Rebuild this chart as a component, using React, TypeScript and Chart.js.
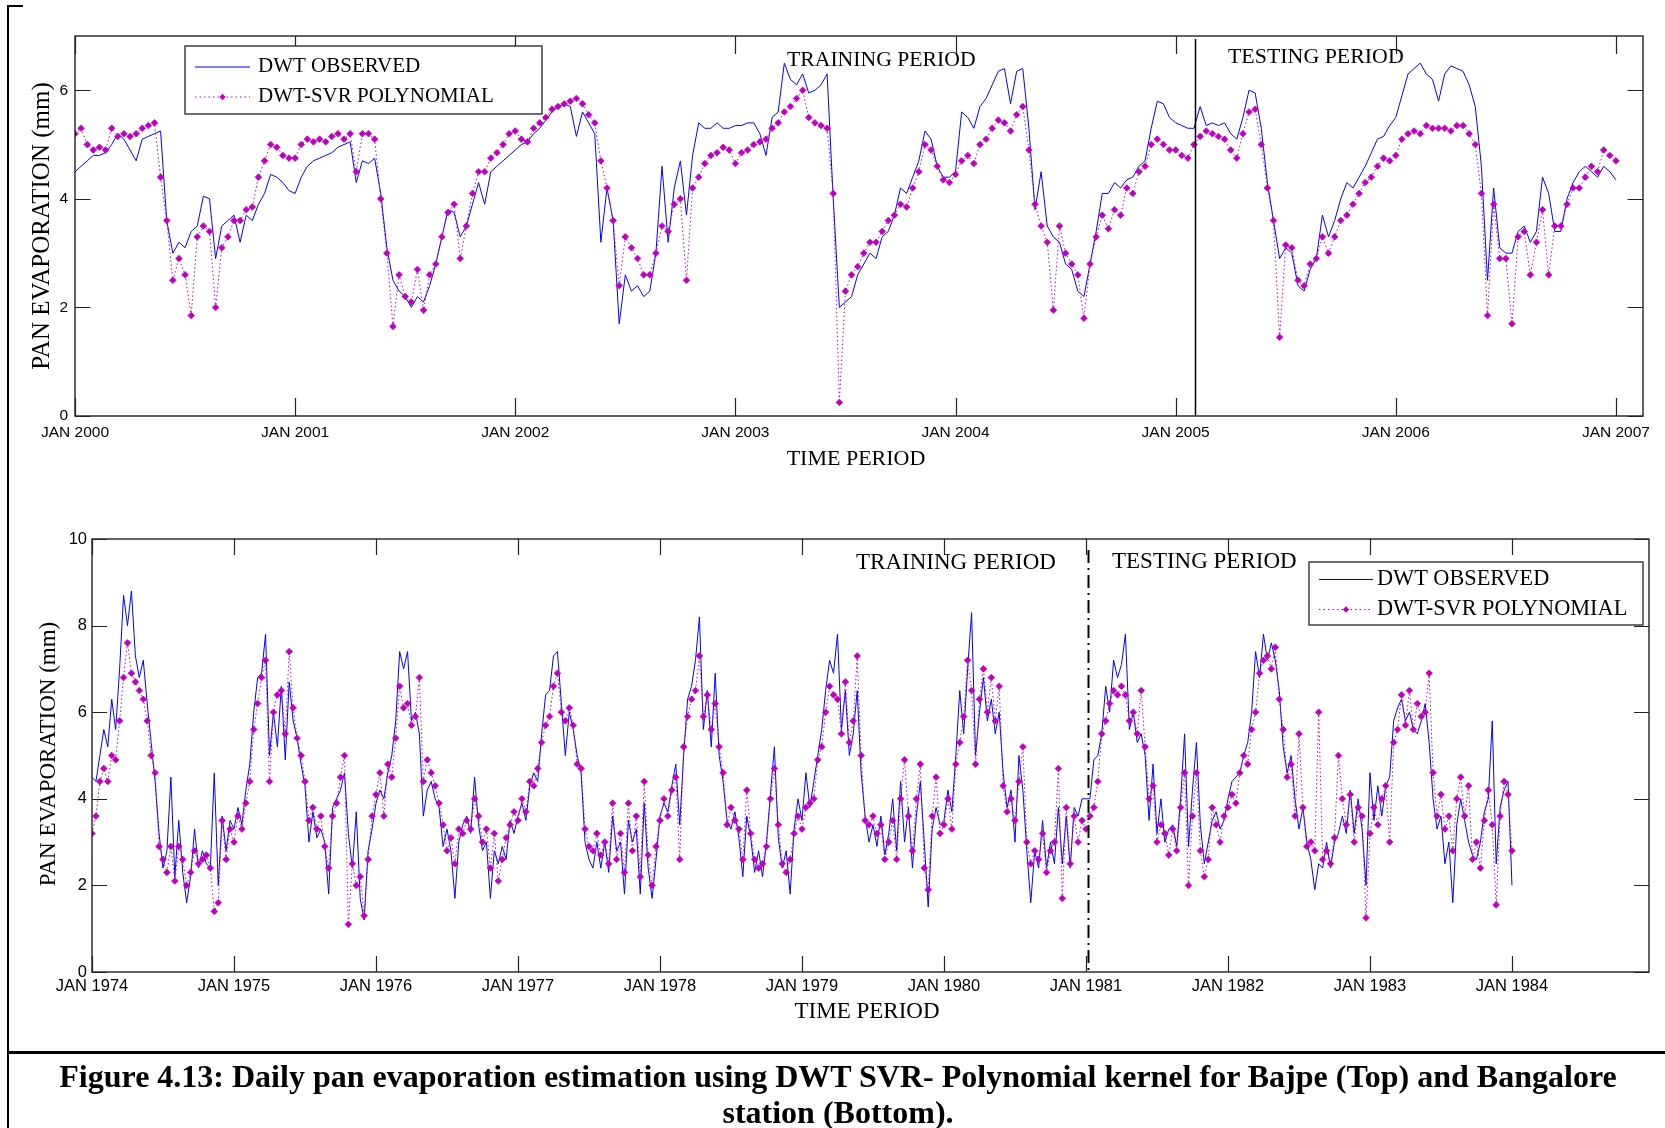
import React, { useEffect, useRef } from "react";
import { Chart, registerables } from "chart.js";

Chart.register(...registerables);

// ===================== DATA =====================
const PER_YEAR = 36;
const SERIES_NAMES = ["DWT OBSERVED", "DWT-SVR POLYNOMIAL"];

// ---- Top panel: Bajpe, Jan 2000 - Jan 2007 ----
const TOP_START_YEAR = 2000;
const TOP_OBS_2000 = [4.5,4.6,4.7,4.8,4.8,4.85,5.0,5.2,5.1,4.9,4.7,5.1,5.15,5.2,5.25,3.6,3.0,3.2,3.1,3.4,3.5,4.05,4.0,2.9,3.5,3.6,3.7,3.2,3.7,3.6,3.9,4.1,4.45,4.4,4.3,4.15];
const TOP_PRED_2000 = [5.2,5.3,5.0,4.9,4.95,4.9,5.3,5.15,5.2,5.15,5.2,5.3,5.35,5.4,4.4,3.6,2.5,2.9,2.6,1.85,3.3,3.5,3.4,2.0,3.1,3.3,3.6,3.6,3.8,3.85,4.4,4.7,5.0,4.95,4.8,4.75];
const TOP_OBS_2001 = [4.1,4.4,4.6,4.7,4.75,4.8,4.85,4.95,5.0,5.05,4.3,4.7,4.65,4.75,4.1,3.1,2.5,2.3,2.2,2.0,2.2,2.1,2.4,2.8,3.3,3.8,3.75,3.3,3.5,3.9,4.3,3.9,4.5,4.6,4.7,4.8];
const TOP_PRED_2001 = [4.75,5.0,5.1,5.05,5.1,5.05,5.15,5.2,5.1,5.2,4.5,5.2,5.2,5.1,4.0,3.0,1.65,2.6,2.2,2.1,2.7,1.95,2.6,2.8,3.3,3.75,3.9,2.9,3.5,4.1,4.5,4.5,4.75,4.85,5.0,5.2];
const TOP_OBS_2002 = [4.9,5.0,5.05,5.2,5.3,5.45,5.6,5.7,5.75,5.7,5.15,5.6,5.4,5.2,3.2,4.2,3.6,1.7,2.6,2.3,2.4,2.2,2.3,3.0,4.6,3.2,4.2,4.7,3.7,4.8,5.4,5.3,5.3,5.4,5.3,5.3];
const TOP_PRED_2002 = [5.25,5.1,5.05,5.3,5.4,5.5,5.65,5.7,5.75,5.8,5.85,5.75,5.55,5.4,4.7,4.2,3.6,2.4,3.3,3.1,2.9,2.6,2.6,3.0,3.5,3.4,3.9,4.0,2.5,4.2,4.4,4.65,4.8,4.85,4.95,4.9];
const TOP_OBS_2003 = [5.35,5.35,5.4,5.4,5.2,4.8,5.5,5.6,6.5,6.2,6.1,6.3,5.95,6.0,6.1,6.3,4.0,2.0,2.1,2.2,2.6,2.8,3.0,2.9,3.3,3.4,3.7,4.2,4.1,4.4,4.7,5.25,5.1,4.6,4.4,4.4];
const TOP_PRED_2003 = [4.65,4.85,4.9,5.0,5.05,5.1,5.3,5.4,5.6,5.7,5.85,6.0,5.5,5.4,5.35,5.3,4.1,0.25,2.3,2.6,2.75,3.0,3.2,3.2,3.4,3.6,3.7,3.9,3.85,4.2,4.5,5.0,4.9,4.6,4.35,4.3];
const TOP_OBS_2004 = [4.5,5.6,5.5,5.3,5.7,5.85,6.1,6.35,6.4,5.75,6.35,6.4,5.3,3.8,4.5,3.5,3.3,3.2,2.8,2.7,2.3,2.2,2.8,3.4,4.1,4.1,4.3,4.2,4.35,4.4,4.6,4.7,5.3,5.8,5.75,5.5];
const TOP_PRED_2004 = [4.45,4.7,4.8,4.65,5.0,5.1,5.3,5.45,5.4,5.25,5.55,5.7,4.9,3.9,3.5,3.2,1.95,3.5,3.0,2.8,2.6,1.8,2.8,3.3,3.7,3.45,3.8,3.7,4.2,4.1,4.5,4.6,5.0,5.1,5.0,4.9];
const TOP_OBS_2005 = [5.4,5.35,5.3,5.3,5.7,5.35,5.4,5.35,5.4,5.2,5.1,5.5,6.0,5.95,5.3,4.3,3.6,2.9,3.1,3.0,2.4,2.3,2.7,2.9,3.7,3.3,3.6,4.0,4.3,4.2,4.4,4.6,4.85,5.1,5.15,5.35];
const TOP_PRED_2005 = [4.9,4.8,4.75,5.0,5.15,5.25,5.2,5.15,5.1,4.9,4.75,5.2,5.6,5.65,5.0,4.2,3.6,1.45,3.15,3.1,2.5,2.4,2.8,2.9,3.3,3.0,3.3,3.6,3.7,3.9,4.1,4.3,4.4,4.6,4.75,4.7];
const TOP_OBS_2006 = [5.5,5.9,6.3,6.4,6.5,6.3,6.2,5.8,6.3,6.45,6.4,6.35,6.1,5.7,4.6,2.5,4.2,3.1,3.0,3.0,3.4,3.5,3.2,3.4,4.4,4.1,3.4,3.4,4.0,4.3,4.5,4.6,4.5,4.4,4.6,4.5];
const TOP_PRED_2006 = [4.8,5.1,5.2,5.25,5.2,5.35,5.3,5.3,5.3,5.25,5.35,5.35,5.2,5.0,4.1,1.85,3.9,2.9,2.9,1.7,3.3,3.4,2.6,3.2,3.8,2.6,3.5,3.5,3.9,4.2,4.2,4.4,4.6,4.5,4.9,4.8];
const TOP_OBS_END = [4.35];
const TOP_PRED_END = [4.7];

const TOP_X_TICKS = [2000, 2001, 2002, 2003, 2004, 2005, 2006, 2007];
const TOP_X_TICK_LABELS = ["JAN 2000", "JAN 2001", "JAN 2002", "JAN 2003", "JAN 2004", "JAN 2005", "JAN 2006", "JAN 2007"];
const TOP_Y_TICKS = [0, 2, 4, 6];
const TOP_Y_TICK_LABELS = ["0", "2", "4", "6"];
const TOP_SPLIT_YEAR = 2005.086;

// ---- Bottom panel: Bangalore, Jan 1974 - Jan 1984 ----
const BOT_START_YEAR = 1974;
const BOT_OBS_1974 = [4.5,4.4,5.0,5.6,5.2,6.3,5.6,7.0,8.7,8.0,8.8,7.3,6.8,7.2,6.2,5.3,4.4,3.2,2.4,2.8,4.5,2.2,3.5,2.3,1.6,2.2,3.3,2.4,2.8,2.5,2.4,4.6,2.0,3.6,2.8,3.5];
const BOT_PRED_1974 = [3.2,3.6,4.4,4.7,4.4,5.0,4.9,5.8,6.8,7.6,6.9,6.7,6.5,6.3,5.8,5.0,4.6,2.9,2.6,2.3,2.9,2.1,2.9,2.6,2.0,2.3,2.8,2.5,2.6,2.7,2.4,1.4,1.6,3.5,2.6,3.3];
const BOT_OBS_1975 = [3.3,3.8,3.4,4.2,4.8,6.0,6.8,6.9,7.8,5.0,6.0,5.2,6.6,4.9,6.7,5.8,5.4,4.8,4.3,3.0,3.7,3.1,3.3,3.0,1.8,3.8,4.0,4.2,4.6,3.2,2.4,3.7,1.7,1.2,2.8,3.3];
const BOT_PRED_1975 = [3.0,3.6,3.3,3.9,4.4,5.6,6.2,6.8,7.2,4.4,6.0,6.4,6.5,5.5,7.4,6.1,5.4,5.0,4.4,3.5,3.8,3.3,3.6,2.9,2.4,3.6,3.9,4.5,5.0,1.1,2.5,2.0,2.2,1.3,2.6,3.6];
const BOT_OBS_1976 = [3.9,4.2,4.0,4.6,5.0,5.8,7.4,7.0,7.4,5.8,6.0,5.5,3.6,4.2,4.4,4.0,3.8,2.9,3.3,2.8,1.7,3.0,3.4,3.6,3.2,4.5,3.4,2.8,3.0,1.7,2.8,2.5,2.9,2.6,3.5,3.2];
const BOT_PRED_1976 = [4.1,4.6,3.6,4.8,4.5,5.4,6.6,6.1,6.2,5.7,5.9,6.8,4.4,4.9,4.6,4.3,3.9,3.4,2.8,3.1,2.5,3.3,3.2,3.5,3.3,4.0,3.6,3.0,3.3,2.4,3.2,2.1,2.6,3.1,3.4,3.7];
const BOT_OBS_1977 = [3.6,3.9,3.5,4.3,4.6,4.4,5.5,6.4,6.5,7.3,7.4,6.2,5.0,6.0,5.6,5.0,4.6,3.0,2.6,2.4,3.0,2.4,3.0,2.3,3.6,2.8,3.0,1.8,3.5,3.0,3.3,1.8,3.9,2.4,1.7,2.6];
const BOT_PRED_1977 = [3.5,4.0,3.7,4.4,4.3,4.7,5.3,5.7,5.9,6.6,6.9,6.0,5.8,6.1,5.7,4.8,4.7,3.3,2.9,2.8,3.2,2.7,3.0,2.5,3.9,2.6,3.2,2.3,3.9,2.8,3.6,2.2,4.4,2.7,2.0,2.9];
const BOT_OBS_1978 = [3.6,3.9,3.7,4.3,4.8,3.4,5.0,6.3,6.6,7.2,8.2,5.6,6.5,5.2,6.9,5.0,4.4,3.5,3.3,3.7,3.1,2.2,3.6,3.1,2.3,2.8,2.2,3.0,4.1,5.2,3.1,2.4,2.8,1.8,3.3,4.0];
const BOT_PRED_1978 = [3.5,4.0,3.6,4.2,4.5,2.6,5.2,5.9,6.3,6.5,7.3,5.9,6.4,5.6,6.2,5.2,4.6,3.4,3.8,3.5,3.3,2.6,4.2,3.2,2.6,2.4,2.5,2.9,4.0,4.7,3.4,2.5,2.3,2.6,3.2,3.6];
const BOT_OBS_1979 = [3.5,4.6,3.8,4.4,5.0,5.6,6.5,7.2,6.9,7.8,5.6,6.5,5.0,5.5,6.5,4.6,3.6,3.0,3.4,2.9,3.6,2.7,3.2,4.0,2.8,4.4,3.0,3.8,2.4,3.6,4.4,3.0,1.5,3.3,3.8,3.4];
const BOT_PRED_1979 = [3.3,3.8,3.9,4.0,4.9,5.2,6.0,6.6,6.4,6.3,5.5,6.7,5.3,5.8,7.3,5.0,3.5,3.4,3.6,3.2,3.4,2.6,3.0,3.5,2.6,4.0,4.9,3.6,2.8,4.0,4.8,2.4,1.9,3.6,4.5,3.2];
const BOT_OBS_1980 = [3.5,4.2,3.7,5.0,6.5,5.5,7.0,8.3,5.0,6.0,6.8,5.8,6.3,5.5,6.0,4.6,3.8,4.2,3.0,5.0,4.2,2.8,1.6,2.8,2.4,3.5,2.4,3.0,2.5,3.8,2.5,3.6,2.4,3.8,3.6,4.0];
const BOT_PRED_1980 = [3.4,4.0,3.3,4.8,5.3,5.9,7.2,6.5,4.8,6.3,7.0,6.0,6.8,5.8,6.6,4.3,3.7,4.0,3.5,4.4,5.2,3.0,2.5,2.8,2.6,3.2,2.3,2.8,3.0,4.7,1.7,3.8,2.5,3.6,3.0,3.5];
const BOT_OBS_1981 = [4.0,4.0,4.9,5.0,5.5,6.6,6.0,7.2,6.8,7.1,7.8,5.6,6.0,5.3,5.5,5.0,3.5,4.8,3.2,4.0,3.0,3.3,3.4,2.9,4.0,5.5,2.9,4.2,5.3,3.4,2.5,3.0,3.5,3.7,3.3,3.5];
const BOT_PRED_1981 = [3.3,3.6,3.8,4.4,5.5,5.8,6.2,6.5,6.4,6.6,6.4,5.8,6.0,5.5,6.5,5.2,4.0,4.3,3.0,3.4,3.2,2.7,3.3,2.8,3.8,4.6,2.0,3.6,4.6,2.8,2.2,2.6,3.8,3.4,3.0,3.6];
const BOT_OBS_1982 = [4.0,4.4,4.5,4.6,5.0,5.3,6.0,7.4,6.8,7.8,7.2,7.6,7.2,6.5,5.2,4.6,5.0,4.0,3.3,3.8,3.0,2.6,1.9,2.5,2.4,3.0,2.4,3.0,3.2,3.6,3.2,4.2,3.2,4.0,3.3,2.0];
const BOT_PRED_1982 = [3.8,4.1,3.9,4.6,5.0,4.8,5.6,6.0,6.9,7.2,7.3,7.0,7.5,6.3,5.6,4.5,4.8,3.6,5.5,3.8,2.9,3.0,2.8,6.0,2.6,2.8,2.5,3.1,5.0,4.0,3.4,4.1,3.0,3.8,3.6,1.25];
const BOT_OBS_1983 = [4.6,3.5,4.3,3.6,4.3,4.5,5.8,6.1,6.3,5.8,6.0,5.6,5.5,5.8,6.2,5.3,4.0,3.3,3.6,2.5,3.0,1.6,3.4,4.0,3.5,3.0,2.7,2.6,3.0,3.7,4.0,5.8,2.5,3.8,4.2,4.4];
const BOT_PRED_1983 = [3.2,3.8,3.4,4.0,4.3,3.0,5.3,5.6,6.4,5.7,6.5,5.6,6.2,5.9,6.0,6.9,4.6,3.6,4.1,3.3,3.6,2.8,4.0,4.5,3.6,4.3,2.6,3.0,2.4,3.5,4.2,3.4,1.55,3.6,4.4,4.1];
const BOT_OBS_END = [2.0];
const BOT_PRED_END = [2.8];

const BOT_X_TICKS = [1974, 1975, 1976, 1977, 1978, 1979, 1980, 1981, 1982, 1983, 1984];
const BOT_X_TICK_LABELS = ["JAN 1974", "JAN 1975", "JAN 1976", "JAN 1977", "JAN 1978", "JAN 1979", "JAN 1980", "JAN 1981", "JAN 1982", "JAN 1983", "JAN 1984"];
const BOT_Y_TICKS = [0, 2, 4, 6, 8, 10];
const BOT_Y_TICK_LABELS = ["0", "2", "4", "6", "8", "10"];
const BOT_SPLIT_YEAR = 1981.014;

// ===================== STYLE =====================
const BLUE = "#0000ff";
const MAGENTA = "#bf00bf";
const SERIF = '"Liberation Serif", "Times New Roman", serif';
const SANS = '"Liberation Sans", Arial, sans-serif';

function toPoints(start: number, values: number[]) {
  return values.map((v, i) => ({ x: start + i / PER_YEAR, y: v }));
}

type PanelCfg = {
  padding: { left: number; top: number; right: number; bottom: number };
  xMin: number;
  xMax: number;
  yMax: number;
  obs: { x: number; y: number }[];
  pred: { x: number; y: number }[];
  xTicks: number[];
  xTickLabels: string[];
  yTicks: number[];
  yTickLabels: string[];
  tickFont: string;
  xLabelOffset: number;
  yLabelGap: number;
  xTickLen: number;
  yTickLen: number;
  xTitleFont: string;
  xTitlePos: [number, number];
  yTitleFont: string;
  yTitlePos: [number, number];
  legend: { box: [number, number, number, number]; sample: [number, number]; textX: number; rows: [number, number]; font: string };
  notes: { text: string; x: number; y: number; font: string }[];
  split: { value: number; dash: number[]; width: number; topInset: number };
};

function drawDiamond(ctx: CanvasRenderingContext2D, x: number, y: number, r: number) {
  ctx.beginPath();
  ctx.moveTo(x, y - r);
  ctx.lineTo(x + r, y);
  ctx.lineTo(x, y + r);
  ctx.lineTo(x - r, y);
  ctx.closePath();
  ctx.fill();
}

function matlabPlugin(cfg: PanelCfg) {
  return {
    id: "matlabAxes",
    afterDatasetsDraw(chart: any) {
      const { ctx, chartArea: a } = chart;
      const xs = chart.scales.x;
      const px = Math.round(xs.getPixelForValue(cfg.split.value)) + 0.5;
      ctx.save();
      ctx.strokeStyle = "#000";
      ctx.lineWidth = cfg.split.width;
      ctx.setLineDash(cfg.split.dash);
      ctx.beginPath();
      ctx.moveTo(px, a.top + cfg.split.topInset);
      ctx.lineTo(px, a.bottom);
      ctx.stroke();
      ctx.restore();
    },
    afterDraw(chart: any) {
      const { ctx, chartArea: a } = chart;
      const xs = chart.scales.x;
      const ys = chart.scales.y;
      ctx.save();
      // frame
      ctx.strokeStyle = "#222";
      ctx.lineWidth = 1.4;
      ctx.strokeRect(a.left, a.top, a.right - a.left, a.bottom - a.top);
      // inward ticks
      ctx.lineWidth = 1.2;
      ctx.beginPath();
      cfg.xTicks.forEach((v) => {
        const p = Math.round(xs.getPixelForValue(v)) + 0.5;
        ctx.moveTo(p, a.bottom);
        ctx.lineTo(p, a.bottom - cfg.xTickLen);
        ctx.moveTo(p, a.top);
        ctx.lineTo(p, a.top + cfg.xTickLen);
      });
      cfg.yTicks.forEach((v) => {
        const p = Math.round(ys.getPixelForValue(v)) + 0.5;
        ctx.moveTo(a.left, p);
        ctx.lineTo(a.left + cfg.yTickLen, p);
        ctx.moveTo(a.right, p);
        ctx.lineTo(a.right - cfg.yTickLen, p);
      });
      ctx.stroke();
      // tick labels
      ctx.fillStyle = "#000";
      ctx.font = cfg.tickFont;
      ctx.textAlign = "center";
      ctx.textBaseline = "middle";
      cfg.xTicks.forEach((v, i) => {
        ctx.fillText(cfg.xTickLabels[i], xs.getPixelForValue(v), a.bottom + cfg.xLabelOffset);
      });
      ctx.textAlign = "right";
      cfg.yTicks.forEach((v, i) => {
        ctx.fillText(cfg.yTickLabels[i], a.left - cfg.yLabelGap, ys.getPixelForValue(v));
      });
      // axis titles
      ctx.textAlign = "center";
      ctx.font = cfg.xTitleFont;
      ctx.fillText("TIME PERIOD", cfg.xTitlePos[0], cfg.xTitlePos[1]);
      ctx.save();
      ctx.translate(cfg.yTitlePos[0], cfg.yTitlePos[1]);
      ctx.rotate(-Math.PI / 2);
      ctx.font = cfg.yTitleFont;
      ctx.fillText("PAN EVAPORATION (mm)", 0, 0);
      ctx.restore();
      // period notes
      ctx.textAlign = "left";
      cfg.notes.forEach((n) => {
        ctx.font = n.font;
        ctx.fillText(n.text, n.x, n.y);
      });
      // legend
      const lg = cfg.legend;
      const [x0, y0, x1, y1] = lg.box;
      ctx.fillStyle = "#fff";
      ctx.fillRect(x0, y0, x1 - x0, y1 - y0);
      ctx.strokeStyle = "#222";
      ctx.lineWidth = 1.3;
      ctx.strokeRect(x0, y0, x1 - x0, y1 - y0);
      ctx.lineWidth = 1;
      ctx.strokeStyle = BLUE;
      ctx.beginPath();
      ctx.moveTo(lg.sample[0], lg.rows[0] + 0.5);
      ctx.lineTo(lg.sample[1], lg.rows[0] + 0.5);
      ctx.stroke();
      ctx.strokeStyle = MAGENTA;
      ctx.setLineDash([1.5, 3]);
      ctx.beginPath();
      ctx.moveTo(lg.sample[0], lg.rows[1] + 0.5);
      ctx.lineTo(lg.sample[1], lg.rows[1] + 0.5);
      ctx.stroke();
      ctx.setLineDash([]);
      ctx.fillStyle = MAGENTA;
      drawDiamond(ctx, (lg.sample[0] + lg.sample[1]) / 2, lg.rows[1] + 0.5, 3.2);
      ctx.fillStyle = "#000";
      ctx.font = lg.font;
      ctx.textAlign = "left";
      ctx.fillText(SERIES_NAMES[0], lg.textX, lg.rows[0]);
      ctx.fillText(SERIES_NAMES[1], lg.textX, lg.rows[1]);
      ctx.restore();
    },
  };
}

function makeConfig(cfg: PanelCfg): any {
  return {
    type: "line",
    data: {
      datasets: [
        {
          label: SERIES_NAMES[1],
          data: cfg.pred,
          borderColor: MAGENTA,
          backgroundColor: MAGENTA,
          borderWidth: 1,
          borderDash: [1.5, 2.5],
          pointStyle: "rectRot",
          pointRadius: 3.3,
          pointBorderWidth: 0.8,
          pointBackgroundColor: MAGENTA,
          pointBorderColor: MAGENTA,
          fill: false,
          tension: 0,
          order: 0,
        },
        {
          label: SERIES_NAMES[0],
          data: cfg.obs,
          borderColor: BLUE,
          borderWidth: 1,
          pointRadius: 0,
          fill: false,
          tension: 0,
          order: 1,
        },
      ],
    },
    options: {
      responsive: false,
      animation: false,
      devicePixelRatio: 1,
      events: [],
      layout: { padding: cfg.padding },
      scales: {
        x: { type: "linear", display: false, min: cfg.xMin, max: cfg.xMax },
        y: { type: "linear", display: false, min: 0, max: cfg.yMax },
      },
      plugins: { legend: { display: false }, tooltip: { enabled: false } },
    },
    plugins: [matlabPlugin(cfg)],
  };
}

const TOP_CFG: PanelCfg = {
  padding: { left: 75, top: 36, right: 22, bottom: 64 },
  xMin: 2000,
  xMax: 2007.123,
  yMax: 7,
  obs: toPoints(TOP_START_YEAR, [
    ...TOP_OBS_2000, ...TOP_OBS_2001, ...TOP_OBS_2002, ...TOP_OBS_2003,
    ...TOP_OBS_2004, ...TOP_OBS_2005, ...TOP_OBS_2006, ...TOP_OBS_END,
  ]),
  pred: toPoints(TOP_START_YEAR, [
    ...TOP_PRED_2000, ...TOP_PRED_2001, ...TOP_PRED_2002, ...TOP_PRED_2003,
    ...TOP_PRED_2004, ...TOP_PRED_2005, ...TOP_PRED_2006, ...TOP_PRED_END,
  ]),
  xTicks: TOP_X_TICKS,
  xTickLabels: TOP_X_TICK_LABELS,
  yTicks: TOP_Y_TICKS,
  yTickLabels: TOP_Y_TICK_LABELS,
  tickFont: `15.5px ${SANS}`,
  xLabelOffset: 16.5,
  yLabelGap: 7,
  xTickLen: 18,
  yTickLen: 15.5,
  xTitleFont: `22px ${SERIF}`,
  xTitlePos: [856, 459],
  yTitleFont: `25px ${SERIF}`,
  yTitlePos: [42, 226],
  legend: { box: [185, 46, 542, 114], sample: [195, 250], textX: 258, rows: [66.5, 96.5], font: `21px ${SERIF}` },
  notes: [
    { text: "TRAINING PERIOD", x: 787, y: 60.5, font: `21.7px ${SERIF}` },
    { text: "TESTING PERIOD", x: 1228, y: 57.5, font: `21.9px ${SERIF}` },
  ],
  split: { value: TOP_SPLIT_YEAR, dash: [], width: 1.5, topInset: 3 },
};

const BOT_CFG: PanelCfg = {
  padding: { left: 92, top: 59, right: 16, bottom: 108 },
  xMin: 1974,
  xMax: 1984.965,
  yMax: 10,
  obs: toPoints(BOT_START_YEAR, [
    ...BOT_OBS_1974, ...BOT_OBS_1975, ...BOT_OBS_1976, ...BOT_OBS_1977, ...BOT_OBS_1978,
    ...BOT_OBS_1979, ...BOT_OBS_1980, ...BOT_OBS_1981, ...BOT_OBS_1982, ...BOT_OBS_1983, ...BOT_OBS_END,
  ]),
  pred: toPoints(BOT_START_YEAR, [
    ...BOT_PRED_1974, ...BOT_PRED_1975, ...BOT_PRED_1976, ...BOT_PRED_1977, ...BOT_PRED_1978,
    ...BOT_PRED_1979, ...BOT_PRED_1980, ...BOT_PRED_1981, ...BOT_PRED_1982, ...BOT_PRED_1983, ...BOT_PRED_END,
  ]),
  xTicks: BOT_X_TICKS,
  xTickLabels: BOT_X_TICK_LABELS,
  yTicks: BOT_Y_TICKS,
  yTickLabels: BOT_Y_TICK_LABELS,
  tickFont: `16.5px ${SANS}`,
  xLabelOffset: 14.5,
  yLabelGap: 5,
  xTickLen: 16,
  yTickLen: 15,
  xTitleFont: `23px ${SERIF}`,
  xTitlePos: [867, 531.5],
  yTitleFont: `23px ${SERIF}`,
  yTitlePos: [49, 274],
  legend: { box: [1309, 82, 1643, 145], sample: [1319, 1373], textX: 1377, rows: [99, 129], font: `22.3px ${SERIF}` },
  notes: [
    { text: "TRAINING PERIOD", x: 856, y: 83, font: `23px ${SERIF}` },
    { text: "TESTING PERIOD", x: 1112, y: 81.5, font: `23px ${SERIF}` },
  ],
  split: { value: BOT_SPLIT_YEAR, dash: [13, 5, 2, 5], width: 2, topInset: 11 },
};

export default function App() {
  const topRef = useRef<HTMLCanvasElement>(null);
  const botRef = useRef<HTMLCanvasElement>(null);

  useEffect(() => {
    const c1 = new Chart(topRef.current as HTMLCanvasElement, makeConfig(TOP_CFG));
    const c2 = new Chart(botRef.current as HTMLCanvasElement, makeConfig(BOT_CFG));
    return () => {
      c1.destroy();
      c2.destroy();
    };
  }, []);

  const captionStyle: React.CSSProperties = {
    position: "absolute",
    left: 0,
    width: 1676,
    height: 36,
    lineHeight: "36px",
    textAlign: "center",
    fontFamily: SERIF,
    fontWeight: "bold",
    fontSize: 32,
    color: "#000",
    whiteSpace: "nowrap",
  };

  return (
    <div style={{ position: "absolute", left: 0, top: 0, width: 1665, height: 1128, overflow: "hidden", background: "#fff" }}>
      <canvas ref={topRef} width={1665} height={480} style={{ position: "absolute", left: 0, top: 0, width: 1665, height: 480 }} />
      <canvas ref={botRef} width={1665} height={600} style={{ position: "absolute", left: 0, top: 480, width: 1665, height: 600 }} />
      <div style={{ position: "absolute", left: 7, top: 5, width: 16, height: 2, background: "#000" }} />
      <div style={{ position: "absolute", left: 7, top: 5, width: 2, height: 1123, background: "#000" }} />
      <div style={{ position: "absolute", left: 7, top: 1051, width: 1658, height: 3, background: "#000" }} />
      <div style={{ ...captionStyle, top: 1058 }}>
        Figure 4.13: Daily pan evaporation estimation using DWT SVR- Polynomial kernel for Bajpe (Top) and Bangalore
      </div>
      <div style={{ ...captionStyle, top: 1094 }}>station (Bottom).</div>
    </div>
  );
}
